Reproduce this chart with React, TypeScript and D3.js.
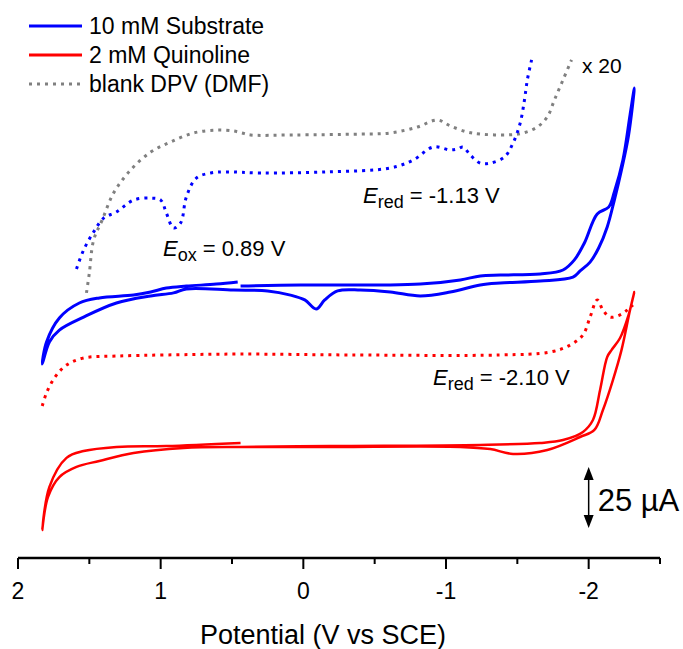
import React from "react";
import * as d3 from "d3";

const W = 683;
const H = 649;

// Potential (V vs SCE), current (µA, offset traces)
const substrateCV: [number, number][] = [
  [0.44, 123.6], [0.02, 124.1], [-0.54, 124.1], [-0.82, 124.5], [-1.1, 126.4], [-1.24, 128.2],
  [-1.38, 128.6], [-1.66, 129.1], [-1.82, 130.9], [-1.9, 135.5], [-1.97, 143.2], [-2.06, 156.4],
  [-2.14, 159.5], [-2.18, 166.4], [-2.24, 180.9], [-2.29, 201.4], [-2.32, 213.6],
  [-2.28, 192.3], [-2.23, 176.4], [-2.18, 162.7], [-2.13, 150.5], [-2.07, 140.9], [-2.01, 134.5],
  [-1.94, 130.5], [-1.89, 127.7], [-1.66, 125.9], [-1.38, 125.0], [-1.24, 124.1], [-1.03, 120.9],
  [-0.82, 119.1], [-0.61, 120.9], [-0.4, 121.8], [-0.24, 121.4], [-0.15, 117.3], [-0.09, 113.2],
  [-0.01, 117.3], [0.09, 119.5], [0.25, 121.4], [0.49, 121.8], [0.82, 122.3], [0.91, 120.5],
  [1.07, 119.1], [1.31, 115.9], [1.54, 109.5], [1.71, 103.6], [1.78, 98.2], [1.83, 88.2],
  [1.8, 98.2], [1.71, 109.1], [1.57, 115.9], [1.43, 118.2], [1.19, 119.5], [1.07, 120.9],
  [0.96, 122.7], [0.82, 123.6], [0.61, 124.5], [0.46, 125.5],
];

const quinolineCV: [number, number][] = [
  [0.44, 50.5], [-0.19, 50.9], [-1.24, 51.4], [-1.66, 52.3], [-1.82, 53.6], [-1.96, 57.3],
  [-2.03, 62.7], [-2.08, 76.4], [-2.13, 91.4], [-2.16, 94.5], [-2.22, 100.0], [-2.28, 110.5],
  [-2.32, 120.9],
  [-2.29, 112.7], [-2.23, 94.5], [-2.17, 80.9], [-2.1, 67.3], [-2.04, 58.2], [-1.94, 55.0],
  [-1.71, 49.1], [-1.47, 47.3], [-1.31, 49.5], [-1.1, 50.5], [-0.19, 50.5], [0.44, 50.5],
  [0.84, 50.0], [1.19, 47.7], [1.43, 44.1], [1.59, 41.4], [1.71, 36.8], [1.79, 27.7], [1.83, 12.7],
  [1.78, 32.3], [1.66, 45.5], [1.54, 48.6], [1.31, 50.5], [0.96, 50.9], [0.44, 52.3],
];

const quinolineDPV: [number, number][] = [
  [1.83, 69.1], [1.8, 75.0], [1.74, 82.3], [1.66, 87.7], [1.54, 90.9], [1.31, 91.8], [0.96, 92.3],
  [0.44, 92.7], [-0.33, 92.3], [-1.38, 92.3], [-1.73, 93.6], [-1.87, 96.8], [-1.96, 101.4],
  [-2.01, 109.5], [-2.06, 117.3], [-2.1, 112.7], [-2.15, 109.5], [-2.22, 110.5], [-2.27, 112.7],
  [-2.31, 115.0],
];

const substrateDPV: [number, number][] = [
  [1.59, 131.4], [1.54, 140.0], [1.47, 148.2], [1.4, 154.5], [1.31, 157.3], [1.19, 162.7],
  [1.07, 163.6], [1.0, 162.7], [0.96, 156.8], [0.91, 150.0], [0.86, 152.3], [0.82, 164.1],
  [0.75, 172.7], [0.65, 175.0], [0.54, 175.5], [0.3, 175.0], [-0.17, 175.5], [-0.61, 177.3],
  [-0.77, 180.9], [-0.91, 186.8], [-1.03, 185.5], [-1.08, 185.9], [-1.12, 186.8], [-1.17, 183.2],
  [-1.24, 179.5], [-1.31, 179.5], [-1.41, 182.3], [-1.47, 188.6], [-1.52, 197.7], [-1.55, 208.2],
  [-1.57, 217.3], [-1.6, 226.4],
];

const blankDPV: [number, number][] = [
  [1.52, 120.5], [1.5, 129.5], [1.47, 144.5], [1.41, 153.6], [1.33, 165.9], [1.21, 176.4],
  [1.07, 184.5], [0.93, 189.1], [0.77, 193.2], [0.61, 194.5], [0.49, 194.1], [0.43, 193.2],
  [0.37, 192.3], [0.07, 192.3], [-0.4, 192.7], [-0.61, 193.2], [-0.8, 195.9], [-0.94, 199.1],
  [-1.03, 196.4], [-1.15, 193.6], [-1.24, 192.7], [-1.43, 192.3], [-1.54, 193.2], [-1.64, 195.9],
  [-1.71, 200.5], [-1.76, 208.2], [-1.82, 217.3], [-1.88, 226.4],
];

const majorTicks = [2, 1, 0, -1, -2];
const minorTicks = [1.5, 0.5, -0.5, -1.5, -2.5];
const tickLabels = ["2", "1", "0", "-1", "-2"];

const legendLabels = ["10 mM Substrate", "2 mM Quinoline", "blank DPV (DMF)"];
const legendColors = ["#0000ff", "#ff0000", "#808080"];
const legendDashed = [false, false, true];

const scaleBarBase = 15; // µA
const scaleBarLength = 25; // µA

const FONT = "'Liberation Sans', Arial, sans-serif";

export default function App() {
  const x = d3.scaleLinear().domain([2, -2.5]).range([18, 660]);
  const y = d3.scaleLinear().domain([0, 240]).range([558, 30]);
  const line = d3
    .line<[number, number]>()
    .x((d) => x(d[0]))
    .y((d) => y(d[1]))
    .curve(d3.curveCatmullRom.alpha(0.5));

  const axisY = y(0);
  const sbX = x(-2.0);
  const sbTop = y(scaleBarBase + scaleBarLength);
  const sbBot = y(scaleBarBase);

  return (
    <svg
      width={W}
      height={H}
      style={{ position: "absolute", left: 0, top: 0, background: "#fff" }}
      fontFamily={FONT}
    >
      {/* traces */}
      <path d={line(blankDPV) || ""} fill="none" stroke="#808080" strokeWidth={3} strokeDasharray="3 5" />
      <path d={line(substrateDPV) || ""} fill="none" stroke="#0000ff" strokeWidth={3} strokeDasharray="3 5" />
      <path d={line(quinolineDPV) || ""} fill="none" stroke="#ff0000" strokeWidth={3} strokeDasharray="3 5" />
      <path d={line(substrateCV) || ""} fill="none" stroke="#0000ff" strokeWidth={3} strokeLinejoin="round" />
      <path d={line(quinolineCV) || ""} fill="none" stroke="#ff0000" strokeWidth={2.5} strokeLinejoin="round" />

      {/* x axis */}
      <line x1={x(2)} x2={x(-2.5)} y1={axisY} y2={axisY} stroke="#000" strokeWidth={2.5} />
      {majorTicks.map((t, i) => (
        <g key={"M" + t}>
          <line x1={x(t)} x2={x(t)} y1={axisY} y2={axisY + 11} stroke="#000" strokeWidth={2} />
          <text x={x(t)} y={axisY + 41} fontSize={23} textAnchor="middle" fill="#000">
            {tickLabels[i]}
          </text>
        </g>
      ))}
      {minorTicks.map((t) => (
        <line key={"m" + t} x1={x(t)} x2={x(t)} y1={axisY} y2={axisY + 6} stroke="#000" strokeWidth={2} />
      ))}
      <text x={323} y={644} fontSize={27} textAnchor="middle" fill="#000">
        Potential (V vs SCE)
      </text>

      {/* legend */}
      {legendLabels.map((lab, i) => {
        const ly = 26 + i * 29;
        return (
          <g key={lab}>
            <line
              x1={29}
              x2={82}
              y1={ly}
              y2={ly}
              stroke={legendColors[i]}
              strokeWidth={3}
              strokeDasharray={legendDashed[i] ? "3 5" : undefined}
            />
            <text x={89} y={ly + 8} fontSize={23} fill="#000">
              {lab}
            </text>
          </g>
        );
      })}

      {/* annotations */}
      <text x={582} y={73} fontSize={21} fill="#000">x 20</text>
      <text x={163} y={256} fontSize={22} fill="#000">
        <tspan fontStyle="italic">E</tspan>
        <tspan fontSize={18} dy={5}>ox</tspan>
        <tspan dy={-5}> = 0.89 V</tspan>
      </text>
      <text x={363} y={203} fontSize={22} fill="#000">
        <tspan fontStyle="italic">E</tspan>
        <tspan fontSize={18} dy={5}>red</tspan>
        <tspan dy={-5}> = -1.13 V</tspan>
      </text>
      <text x={433} y={385} fontSize={22} fill="#000">
        <tspan fontStyle="italic">E</tspan>
        <tspan fontSize={18} dy={5}>red</tspan>
        <tspan dy={-5}> = -2.10 V</tspan>
      </text>

      {/* scale bar */}
      <line x1={sbX} x2={sbX} y1={sbTop} y2={sbBot} stroke="#000" strokeWidth={1.5} />
      <path d={`M${sbX},${sbTop - 3} l-5,13 l10,0 Z`} fill="#000" />
      <path d={`M${sbX},${sbBot + 3} l-5,-13 l10,0 Z`} fill="#000" />
      <text x={sbX + 9} y={sbTop + 41} fontSize={31} fill="#000">25 µA</text>
    </svg>
  );
}
